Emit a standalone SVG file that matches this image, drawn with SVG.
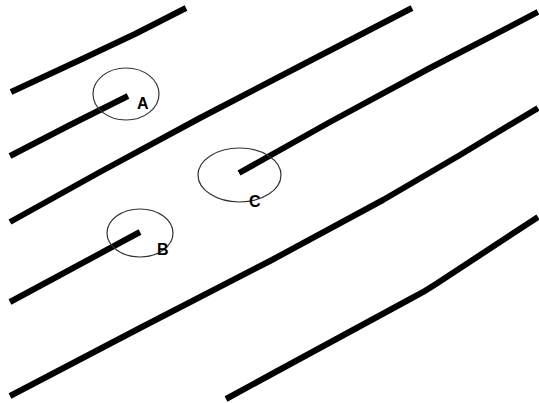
<svg xmlns="http://www.w3.org/2000/svg" width="539" height="403" viewBox="0 0 539 403">
<style>
.ln{fill:none;stroke:#000;stroke-width:6;stroke-linecap:butt;stroke-linejoin:round}
.ring{fill:none;stroke:#333;stroke-width:1.2}
.lbl{font-family:"Liberation Sans",Arial,sans-serif;font-weight:bold;font-size:16px;fill:#000}
</style>
<rect width="539" height="403" fill="#fff"/>
<g id="connectors">
<path class="ln" d="M11,92 L80,60 L135,34 L186,8"/>
<path class="ln" d="M10,156 L70,125 L128,96"/>
<path class="ln" d="M10,222 L100,172 L200,118 L300,66 L412,8"/>
<path class="ln" d="M239,173 L330,122 L430,68 L538,12"/>
<path class="ln" d="M10,302 L140,232"/>
<path class="ln" d="M10,396 L140,328 L270,261 L383,200 L460,155 L538,108"/>
<path class="ln" d="M226,399 L270,375 L412,298 Q424,292 436,284 L538,217"/>
</g>
<g id="node-A">
<ellipse class="ring" cx="126" cy="94" rx="33" ry="26"/>
<text class="lbl" x="137" y="109">A</text>
</g>
<g id="node-B">
<ellipse class="ring" cx="140" cy="233" rx="33" ry="24"/>
<text class="lbl" x="157" y="255">B</text>
</g>
<g id="node-C">
<ellipse class="ring" cx="239.5" cy="175" rx="41.5" ry="27"/>
<text class="lbl" x="249" y="207">C</text>
</g>
</svg>
